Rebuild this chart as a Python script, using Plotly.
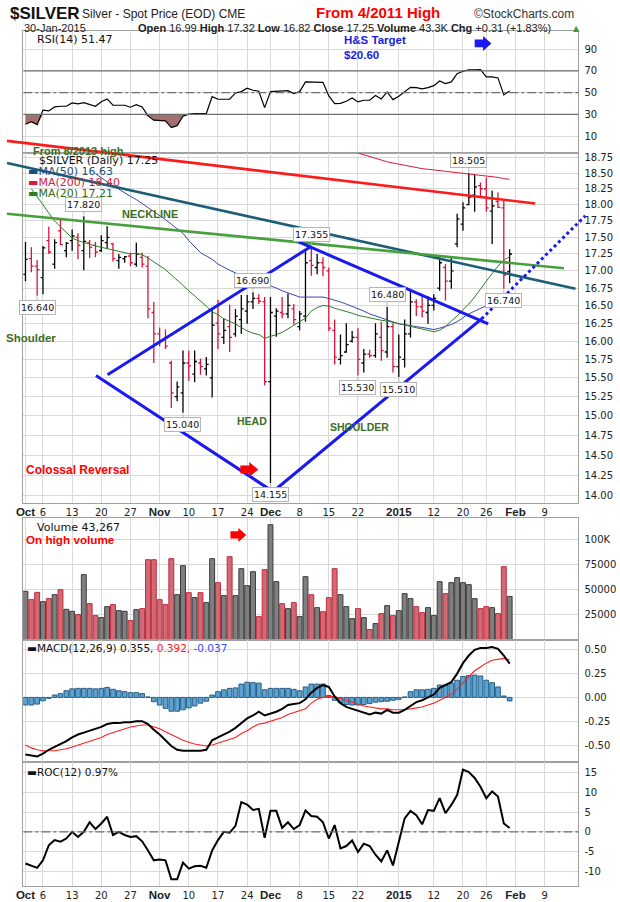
import numpy as np
import pandas as pd
import plotly.graph_objects as go

W, H = 620, 902

# trading calendar (exchange holidays are skipped on the chart)
holidays = pd.to_datetime(['2014-11-27', '2014-12-25', '2015-01-01', '2015-01-19'])
calendar = pd.bdate_range('2014-10-01', '2015-02-13')
calendar = calendar[~calendar.isin(holidays)]
n = calendar.get_loc(pd.Timestamp('2015-01-30')) + 1
x = list(range(n))

tick_dates = ['2014-10-01', '2014-10-06', '2014-10-13', '2014-10-20', '2014-10-27',
              '2014-11-03', '2014-11-10', '2014-11-17', '2014-11-24', '2014-12-01',
              '2014-12-08', '2014-12-15', '2014-12-22', '2015-01-02', '2015-01-12',
              '2015-01-20', '2015-01-26', '2015-02-02', '2015-02-09']
month_style = "<span style='font-family:Liberation Sans;font-size:11.5px'><b>%s</b></span>"
tick_text = [month_style % 'Oct', '6', '13', '20', '27', month_style % 'Nov', '10', '17', '24',
             month_style % 'Dec', '8', '15', '22', month_style % '2015', '12', '20', '26',
             month_style % 'Feb', '9']
tick_pos = [calendar.get_loc(pd.Timestamp(d)) for d in tick_dates]

# daily bars
opens = [16.95, 17.18, 17.07, 16.90, 17.45, 17.10, 17.60, 17.30, 17.45, 17.50,
         17.30, 17.42, 17.38, 17.30, 17.42, 17.40, 17.15, 17.18, 17.22, 17.10,
         17.20, 17.07, 16.40, 16.10, 16.02, 15.70, 15.25, 15.30, 15.70, 15.55,
         15.70, 15.62, 15.50, 16.25, 16.05, 16.20, 16.10, 16.30, 16.42, 16.55,
         16.60, 16.55, 15.45, 16.35, 16.40, 16.38, 16.45, 16.20, 16.35, 17.15,
         17.05, 17.12, 17.00, 16.15, 15.75, 15.85, 16.00, 16.05, 15.70, 15.82,
         15.80, 16.05, 15.85, 16.20, 15.65, 15.75, 16.10, 16.55, 16.48, 16.40,
         16.50, 16.75, 17.05, 16.85, 17.40, 17.70, 18.00, 18.15, 18.30, 18.25,
         17.90, 18.05, 17.95, 16.99]
highs = [17.43, 17.35, 17.16, 17.37, 17.66, 17.47, 17.78, 17.43, 17.62, 17.56,
         17.82, 17.46, 17.43, 17.53, 17.67, 17.42, 17.25, 17.22, 17.27, 17.42,
         17.27, 17.22, 16.55, 16.19, 16.16, 15.73, 15.45, 15.87, 15.87, 15.87,
         15.76, 15.78, 16.44, 16.58, 16.32, 16.51, 16.45, 16.65, 16.65, 16.69,
         16.66, 16.62, 16.62, 16.46, 16.62, 16.67, 16.52, 16.42, 17.30, 17.355,
         17.25, 17.20, 17.05, 16.30, 16.09, 16.25, 16.14, 16.18, 15.89, 15.88,
         16.25, 16.27, 16.48, 16.25, 16.09, 16.30, 16.71, 16.59, 16.66, 16.63,
         16.66, 17.20, 17.10, 17.22, 17.86, 18.04, 18.505, 18.48, 18.35, 18.43,
         18.22, 18.19, 18.06, 17.32]
lows = [16.85, 16.98, 16.64, 16.66, 17.25, 17.03, 17.38, 17.20, 17.30, 17.17,
        17.01, 17.19, 17.20, 17.28, 17.33, 17.14, 17.03, 17.12, 17.07, 17.06,
        17.05, 16.32, 15.70, 15.93, 15.89, 15.10, 15.19, 15.04, 15.46, 15.44,
        15.54, 15.53, 15.24, 15.89, 15.96, 15.85, 16.06, 16.10, 16.24, 16.45,
        16.52, 15.40, 14.155, 16.06, 16.32, 16.32, 16.23, 16.15, 16.27, 16.93,
        16.95, 16.92, 16.14, 15.68, 15.68, 15.84, 15.98, 15.53, 15.57, 15.77,
        15.77, 15.73, 15.77, 15.57, 15.51, 15.64, 16.05, 16.35, 16.33, 16.24,
        16.43, 16.71, 16.57, 16.74, 17.35, 17.60, 17.99, 17.89, 18.11, 17.89,
        17.40, 17.95, 16.74, 16.82]
closes = [17.17, 17.07, 17.02, 17.34, 17.28, 17.42, 17.39, 17.41, 17.52, 17.38,
          17.44, 17.35, 17.28, 17.45, 17.50, 17.18, 17.20, 17.21, 17.12, 17.25,
          17.10, 16.45, 16.10, 16.00, 15.93, 15.30, 15.38, 15.70, 15.66, 15.72,
          15.65, 15.68, 16.22, 16.10, 16.15, 16.05, 16.35, 16.45, 16.55, 16.60,
          16.56, 15.45, 16.40, 16.42, 16.38, 16.50, 16.30, 16.38, 17.12, 17.08,
          17.12, 17.05, 16.18, 15.78, 15.80, 15.95, 16.05, 15.75, 15.82, 15.80,
          16.10, 15.87, 16.20, 15.65, 15.78, 16.10, 16.55, 16.48, 16.42, 16.50,
          16.60, 17.12, 16.85, 17.00, 17.78, 17.95, 18.12, 18.28, 18.25, 17.95,
          17.98, 17.96, 16.94, 17.25]
volume = [48300, 40000, 47300, 38000, 41000, 45000, 50000, 30300, 28300, 25000,
          65000, 36000, 24000, 22000, 33000, 35000, 29000, 28300, 19000, 30000,
          31000, 80000, 80000, 40000, 35000, 81000, 45000, 74000, 47000, 42000,
          47000, 37000, 81000, 57000, 44000, 83000, 44000, 71000, 54000, 68000,
          23000, 70000, 115000, 58000, 36000, 31000, 37000, 23000, 63000, 45000,
          32000, 28000, 42000, 71000, 45000, 33000, 21000, 31000, 22000, 10000,
          16000, 26000, 34000, 24000, 29000, 46000, 41000, 33000, 27000, 32000,
          24000, 58000, 46000, 57000, 62000, 57000, 55000, 41000, 31000, 33000,
          32000, 26000, 73000, 43267]

# moving averages (None where the line is not drawn)
ma20 = [None, 18.25, 18.13, 18.00, 17.87, 17.75, 17.66, 17.58, 17.49, 17.45,
        17.42, 17.40, 17.37, 17.35, 17.33, 17.31, 17.29, 17.27, 17.25, 17.26,
        17.24, 17.19, 17.13, 17.07, 17.02, 16.94, 16.87, 16.79, 16.71, 16.64,
        16.57, 16.49, 16.41, 16.37, 16.31, 16.28, 16.24, 16.19, 16.14, 16.11,
        16.09, 16.04, 16.06, 16.09, 16.12, 16.17, 16.21, 16.26, 16.32, 16.42,
        16.47, 16.50, 16.49, 16.46, 16.44, 16.41, 16.39, 16.36, 16.34, 16.32,
        16.30, 16.29, 16.28, 16.26, 16.25, 16.22, 16.20, 16.19, 16.17, 16.15,
        16.13, 16.15, 16.20, 16.28, 16.35, 16.44, 16.52, 16.62, 16.74, 16.85,
        16.96, 17.07, 17.16, 17.21]
ma50 = [None] * 12 + [
        18.49, 18.42, 18.36, 18.30, 18.24, 18.19, 18.13, 18.08, 18.02, 17.96,
        17.90, 17.83, 17.77, 17.70, 17.63, 17.56, 17.45, 17.36, 17.27, 17.22,
        17.17, 17.10, 17.05, 17.01, 16.97, 16.94, 16.91, 16.88, 16.85, 16.82,
        16.79, 16.75, 16.71, 16.68, 16.65, 16.62, 16.62, 16.62, 16.62, 16.62,
        16.60, 16.58, 16.55, 16.52, 16.49, 16.46, 16.42, 16.38, 16.35, 16.32,
        16.29, 16.26, 16.24, 16.23, 16.21, 16.20, 16.19, 16.17, 16.16, 16.18,
        16.20, 16.23, 16.27, 16.33, 16.38, 16.42, 16.46, 16.50, 16.54, 16.57,
        16.60, 16.63]
ma200 = [None] * 55 + [
        18.88, 18.85, 18.82, 18.79, 18.76, 18.73, 18.71, 18.68, 18.66, 18.64,
        18.62, 18.60, 18.59, 18.57, 18.56, 18.55, 18.54, 18.52, 18.51, 18.50,
        18.49, 18.48, 18.47, 18.46, 18.45, 18.44, 18.43, 18.41, 18.40]

rsi = [21.0, 23.4, 20.6, 34.0, 33.2, 36.9, 37.5, 37.5, 40.5, 39.6,
       40.8, 39.3, 37.5, 41.7, 44.2, 38.4, 38.7, 38.4, 36.6, 39.0,
       36.9, 28.6, 24.7, 24.7, 24.1, 17.9, 19.7, 28.3, 30.2, 30.8,
       30.8, 30.8, 46.3, 43.9, 43.9, 43.9, 49.7, 50.9, 54.0, 52.2,
       51.3, 36.2, 50.9, 51.3, 51.5, 51.8, 49.1, 50.9, 59.8, 59.8,
       59.8, 59.5, 47.0, 39.9, 40.2, 42.1, 45.1, 41.5, 43.0, 43.0,
       47.3, 44.2, 50.6, 43.6, 46.7, 50.6, 54.9, 54.6, 53.4, 54.6,
       56.4, 60.7, 58.3, 59.8, 67.4, 69.6, 70.8, 70.8, 71.1, 64.4,
       64.4, 63.5, 47.9, 51.47]

macd = [-0.60, -0.61, -0.62, -0.59, -0.55, -0.52, -0.49, -0.46, -0.42, -0.39,
        -0.37, -0.35, -0.33, -0.31, -0.28, -0.27, -0.27, -0.26, -0.26, -0.25,
        -0.25, -0.28, -0.34, -0.39, -0.45, -0.51, -0.55, -0.56, -0.56, -0.56,
        -0.56, -0.55, -0.45, -0.42, -0.39, -0.36, -0.32, -0.27, -0.22, -0.19,
        -0.15, -0.19, -0.17, -0.15, -0.12, -0.08, -0.07, -0.06, -0.02, 0.05,
        0.10, 0.13, 0.11, 0.01, -0.06, -0.10, -0.12, -0.14, -0.16, -0.18,
        -0.16, -0.17, -0.13, -0.16, -0.16, -0.13, -0.09, -0.05, -0.03, 0.00,
        0.03, 0.10, 0.13, 0.16, 0.25, 0.36, 0.44, 0.50, 0.52, 0.52,
        0.53, 0.51, 0.44, 0.355]
signal = [-0.50, -0.53, -0.55, -0.56, -0.56, -0.56, -0.55, -0.54, -0.52, -0.50,
          -0.48, -0.46, -0.44, -0.42, -0.39, -0.37, -0.35, -0.33, -0.31, -0.30,
          -0.29, -0.29, -0.31, -0.33, -0.36, -0.39, -0.42, -0.45, -0.47, -0.49,
          -0.50, -0.51, -0.50, -0.48, -0.46, -0.44, -0.42, -0.38, -0.35, -0.31,
          -0.28, -0.27, -0.25, -0.23, -0.21, -0.18, -0.16, -0.14, -0.12, -0.06,
          -0.02, 0.00, 0.01, 0.01, -0.01, -0.03, -0.05, -0.07, -0.09, -0.10,
          -0.11, -0.12, -0.12, -0.13, -0.13, -0.13, -0.12, -0.11, -0.10, -0.08,
          -0.06, -0.03, 0.00, 0.03, 0.09, 0.15, 0.22, 0.28, 0.32, 0.36,
          0.39, 0.40, 0.41, 0.392]
hist = [-0.08, -0.08, -0.07, -0.035, -0.01, 0.025, 0.04, 0.07, 0.09, 0.095,
        0.095, 0.095, 0.09, 0.095, 0.105, 0.085, 0.07, 0.06, 0.05, 0.05,
        0.04, 0.005, -0.045, -0.08, -0.115, -0.145, -0.145, -0.13, -0.11, -0.09,
        -0.06, -0.04, 0.025, 0.06, 0.08, 0.095, 0.10, 0.14, 0.16, 0.155,
        0.15, 0.08, 0.095, 0.095, 0.095, 0.095, 0.085, 0.07, 0.11, 0.14,
        0.14, 0.14, 0.02, -0.03, -0.055, -0.075, -0.08, -0.08, -0.075, -0.065,
        -0.05, -0.045, -0.04, -0.03, -0.02, 0.005, 0.06, 0.08, 0.08, 0.085,
        0.095, 0.13, 0.13, 0.15, 0.18, 0.22, 0.23, 0.235, 0.225, 0.18,
        0.155, 0.11, 0.015, -0.037]

roc = [-8.0, -8.5, -9.1, -7.2, -3.4, -2.1, -2.5, -1.7, 0.0, -1.3,
       0.0, 2.4, 0.7, 2.1, 3.8, -0.8, 0.0, -0.8, -1.3, -1.1,
       -2.4, -4.7, -7.2, -7.0, -7.2, -12.0, -12.0, -7.8, -9.3, -8.7,
       -8.6, -9.1, -4.7, -2.1, 0.0, -0.2, 1.5, 7.5, 6.9, 5.5,
       5.8, -1.5, 5.3, 5.3, 1.0, 2.4, 0.7, 1.7, 5.4, 4.0,
       3.8, 2.4, -1.7, 1.7, -4.2, -3.6, -2.2, -5.1, -3.0, -3.6,
       -5.8, -7.5, -4.7, -8.5, -2.7, 3.4, 5.3, 4.2, 1.9, 5.5,
       5.3, 8.5, 4.7, 6.8, 9.3, 15.7, 15.1, 13.6, 11.4, 8.5,
       10.2, 8.9, 2.1, 0.97]

# swing-point labels: bar index and whether it marks the high or the low
swing_idx = [2, 10, 27, 39, 42, 49, 57, 62, 64, 76, 82]
swing_kind = ['low', 'high', 'low', 'high', 'low', 'high', 'low', 'high', 'low', 'high', 'low']

# hand-drawn lines: (start bar, start price, end bar, end price)
red_trend = (-3.17, 19.02, 87.39, 18.02)
teal_trend = (-3.17, 18.66, 94.29, 16.74)
neckline = (-3.17, 17.86, 92.31, 17.04)
diamond = [(14.07, 15.54, 49.08, 17.37), (46.83, 17.43, 79.32, 16.24),
           (12.08, 15.53, 43.73, 13.99), (40.90, 13.96, 78.19, 16.31)]
projection = (78.19, 16.31, 95.98, 17.83)

up = [i == 0 or closes[i] >= closes[i - 1] for i in x]


def px(p):
    return p / W


def py(p):
    return 1 - p / H


XD = [px(16.5), px(578)]
XR = [-0.37, 94.8]
RSI_D = [py(151.7), py(30)]
PRICE_D = [py(502.7), py(151.7)]
VOL_D = [py(640), py(518)]
MACD_D = [py(762), py(640)]
ROC_D = [py(886), py(762)]
PRICE_R = [np.log10(13.91), np.log10(18.83)]


def dx(i):
    return XD[0] + (i - XR[0]) / (XR[1] - XR[0]) * (XD[1] - XD[0])


def dy(p):
    return PRICE_D[0] + (np.log10(p) - PRICE_R[0]) / (PRICE_R[1] - PRICE_R[0]) * (PRICE_D[1] - PRICE_D[0])


fig = go.Figure()

# RSI panel
rsi_low = [min(v, 30) for v in rsi]
fig.add_trace(go.Scatter(x=x, y=[30] * n, mode='lines', line=dict(width=0),
                         xaxis='x', yaxis='y', hoverinfo='skip'))
fig.add_trace(go.Scatter(x=x, y=rsi_low, mode='lines', line=dict(width=0), fill='tonexty',
                         fillcolor='#a36f6f', xaxis='x', yaxis='y', hoverinfo='skip'))
fig.add_trace(go.Scatter(x=x, y=rsi, mode='lines', line=dict(color='black', width=1.2),
                         xaxis='x', yaxis='y'))

# price panel
for vals, color in [(ma200, '#d81b3c'), (ma50, '#3848a8'), (ma20, '#2f7d24')]:
    fig.add_trace(go.Scatter(x=x, y=vals, mode='lines', line=dict(color=color, width=1),
                             xaxis='x2', yaxis='y2'))

for flag, color in [(True, '#000000'), (False, '#d8133a')]:
    ids = [i for i in x if up[i] == flag]
    fig.add_trace(go.Ohlc(
        x=ids,
        open=[opens[i] for i in ids], high=[highs[i] for i in ids],
        low=[lows[i] for i in ids], close=[closes[i] for i in ids],
        increasing=dict(line=dict(color=color, width=1.3)),
        decreasing=dict(line=dict(color=color, width=1.3)),
        tickwidth=0.4, xaxis='x2', yaxis='y2', hoverinfo='skip'))

# volume panel
fig.add_trace(go.Bar(
    x=x, y=volume, width=0.84,
    marker=dict(color=['#7f7f7f' if u else '#d06a74' for u in up],
                line=dict(color=['#3a3a3a' if u else '#c22a3e' for u in up], width=1)),
    xaxis='x3', yaxis='y3'))

# MACD panel
fig.add_trace(go.Bar(x=x, y=hist, width=0.8,
                     marker=dict(color='#58a4d4', line=dict(color='#2a5c80', width=1)),
                     xaxis='x4', yaxis='y4'))
fig.add_trace(go.Scatter(x=x, y=signal, mode='lines', line=dict(color='#ff2020', width=1.1),
                         xaxis='x4', yaxis='y4'))
fig.add_trace(go.Scatter(x=x, y=macd, mode='lines', line=dict(color='black', width=2),
                         xaxis='x4', yaxis='y4'))

# ROC panel
fig.add_trace(go.Scatter(x=x, y=roc, mode='lines', line=dict(color='black', width=2),
                         xaxis='x5', yaxis='y5'))

tick_font = dict(family='DejaVu Sans', size=10, color='#222')


def xax(anchor, labels):
    return dict(domain=XD, range=XR, anchor=anchor, tickvals=tick_pos, ticktext=tick_text,
                showticklabels=labels, showgrid=True, gridcolor='#d9d9d9', zeroline=False,
                showline=True, mirror=True, linecolor='#a0a0a0', ticks='', fixedrange=True,
                tickfont=tick_font, rangeslider=dict(visible=False))


def yax(anchor, dom, rng, vals, text, **kw):
    d = dict(domain=dom, range=rng, anchor=anchor, side='right', tickvals=vals, ticktext=text,
             showgrid=True, gridcolor='#d9d9d9', zeroline=False, showline=True, mirror=True,
             linecolor='#a0a0a0', ticks='', ticklabelstandoff=3, tickfont=tick_font,
             fixedrange=True)
    d.update(kw)
    return d


price_ticks = [14.0 + 0.25 * k for k in range(20)]

fig.update_layout(
    width=W, height=H, margin=dict(l=0, r=0, t=0, b=0),
    paper_bgcolor='white', plot_bgcolor='white', showlegend=False, hovermode=False,
    xaxis=xax('y', False), xaxis2=xax('y2', True), xaxis3=xax('y3', False),
    xaxis4=xax('y4', False), xaxis5=xax('y5', True),
    yaxis=yax('x', RSI_D, [-5, 106.6], [10, 30, 50, 70, 90], ['10', '30', '50', '70', '90']),
    yaxis2=yax('x2', PRICE_D, PRICE_R, price_ticks, [f'{v:.2f}' for v in price_ticks], type='log'),
    yaxis3=yax('x3', VOL_D, [-700, 121300], [25000, 50000, 75000, 100000],
               ['25000', '50000', '75000', '100K']),
    yaxis4=yax('x4', MACD_D, [-0.68, 0.60], [-0.5, -0.25, 0, 0.25, 0.5],
               ['-0.50', '-0.25', '0.00', '0.25', '0.50']),
    yaxis5=yax('x5', ROC_D, [-13.7, 17.6], [-10, -5, 0, 5, 10, 15],
               ['-10', '-5', '0', '5', '10', '15']),
)

shapes = []
# RSI reference lines
for level, dash in [(70, 'solid'), (30, 'solid'), (50, 'dashdot')]:
    shapes.append(dict(type='line', xref='x', yref='y', x0=XR[0], x1=XR[1], y0=level, y1=level,
                       line=dict(color='#6e6e6e', width=1.2, dash=dash)))
shapes.append(dict(type='line', xref='x5', yref='y5', x0=XR[0], x1=XR[1], y0=0, y1=0,
                   line=dict(color='#6e6e6e', width=1.2, dash='dashdot')))


def seg(line, color, width, dash='solid'):
    return dict(type='line', xref='paper', yref='paper',
                x0=dx(line[0]), y0=dy(line[1]), x1=dx(line[2]), y1=dy(line[3]),
                line=dict(color=color, width=width, dash=dash))


shapes.append(seg(red_trend, '#ff1a1a', 2.6))
shapes.append(seg(teal_trend, '#1d5d78', 2.6))
shapes.append(seg(neckline, '#46a03c', 2.6))
for d in diamond:
    shapes.append(seg(d, '#1a1af0', 3))
shapes.append(seg(projection, '#1a1af0', 3, 'dot'))


def arrow(xl, yc, w, h, color):
    hb = h * 0.26
    xh = xl + w * 0.5
    pts = [(xl, yc - hb), (xh, yc - hb), (xh, yc - h / 2), (xl + w, yc),
           (xh, yc + h / 2), (xh, yc + hb), (xl, yc + hb)]
    path = 'M ' + ' L '.join(f'{px(a):.5f},{py(b):.5f}' for a, b in pts) + ' Z'
    return dict(type='path', xref='paper', yref='paper', path=path,
                fillcolor=color, line=dict(color=color, width=0))


shapes.append(arrow(473, 42.5, 17, 15, '#1a1af0'))
shapes.append(arrow(236, 469, 18, 15, '#ff0000'))
shapes.append(arrow(226, 534.5, 16, 14, '#ff0000'))
fig.update_layout(shapes=shapes)


def text(xp, yp, s, color='#222', size=11, family='DejaVu Sans', anchor='left'):
    fig.add_annotation(x=px(xp), y=py(yp), xref='paper', yref='paper', text=s, showarrow=False,
                       xanchor=anchor, yanchor='middle',
                       font=dict(family=family, size=size, color=color))


ARIAL = 'Liberation Sans, Arial'
GREEN = '#3c6e1e'

# header
chg = closes[-1] - closes[-2]
text(1, 13, '<b>$SILVER</b>', '#111', 17, ARIAL)
text(74, 13, 'Silver - Spot Price (EOD) CME', '#222', 12, ARIAL)
text(576, 13, '©StockCharts.com', '#333', 12, ARIAL, 'right')
text(15, 27.5, '30-Jan-2015', '#222', 11, ARIAL)
text(130, 27.5,
     f'<b>Open</b> {opens[-1]:.2f} <b>High</b> {highs[-1]:.2f} <b>Low</b> {lows[-1]:.2f}'
     f' <b>Close</b> {closes[-1]:.2f} <b>Volume</b> {volume[-1] / 1000:.1f}K'
     f' <b>Chg</b> {chg:+.2f} ({chg / closes[-2] * 100:+.2f}%)', '#222', 11, ARIAL)
text(570, 27.5, '▲', '#3a9a3a', 8, 'DejaVu Sans')
text(375, 12, '<b>From 4/2011 High</b>', '#ff0000', 15, ARIAL, 'center')

# panel legends
text(28, 39, f'RSI(14) {rsi[-1]:.2f}', '#111', 11)
text(24, 150, '<b>From 8/2013 high</b>', GREEN, 11, ARIAL)
text(30, 159.5, f'$SILVER (Daily) {closes[-1]:.2f}', '#111', 11)
text(19, 171, f"<span style='color:#1d4f7c'>▬</span>MA(50) {ma50[-1]:.2f}", '#1d4f7c', 11)
text(19, 182, f"<span style='color:#d81b3c'>▬</span>MA(200) {ma200[-1]:.2f}", '#d81b3c', 11)
text(19, 193, f"<span style='color:#2f7d24'>▬</span>MA(20) {ma20[-1]:.2f}", '#2f6d1e', 11)
text(28, 527, f'Volume {volume[-1]:,}', '#111', 11)
text(17, 539, '<b>On high volume</b>', '#ff0000', 11.7, ARIAL)
text(18, 648,
     f"▬MACD(12,26,9) {macd[-1]:.3f}, <span style='color:#ff2020'>{signal[-1]:.3f},</span>"
     f" <span style='color:#3050ff'>{hist[-1]:.3f}</span>", '#111', 10.5)
text(18, 772, f'▬ROC(12) {roc[-1]:.2f}%', '#111', 10.5)

# chart notes
text(145, 213, '<b>NECKLINE</b>', GREEN, 11, ARIAL, 'center')
text(-3, 337, '<b>Shoulder</b>', GREEN, 11.5, ARIAL)
text(248, 420, '<b>HEAD</b>', GREEN, 10.5, ARIAL, 'center')
text(357, 426, '<b>SHOULDER</b>', GREEN, 10.5, ARIAL, 'center')
text(17, 470, '<b>Colossal Reversal</b>', '#ff0000', 12, ARIAL)
text(339, 39, '<b>H&S Target</b>', '#1a1ae6', 11.5, ARIAL)
text(339, 54, '<b>$20.60</b>', '#1a1ae6', 11.5, ARIAL)

# swing high / low labels
for i, kind in zip(swing_idx, swing_kind):
    val = highs[i] if kind == 'high' else lows[i]
    fig.add_annotation(x=i, y=np.log10(val), xref='x2', yref='y2', text=f'{val:.3f}',
                       showarrow=True, arrowhead=0, arrowwidth=1, arrowcolor='#b5b5b5',
                       ax=0, ay=-12 if kind == 'high' else 12, standoff=1,
                       bgcolor='white', bordercolor='#b5b5b5', borderwidth=1, borderpad=1,
                       font=dict(family='DejaVu Sans', size=9.5, color='#111'))

fig.write_html('out.html', config={'displayModeBar': False},
               post_script="document.body.style.margin='0px';")
